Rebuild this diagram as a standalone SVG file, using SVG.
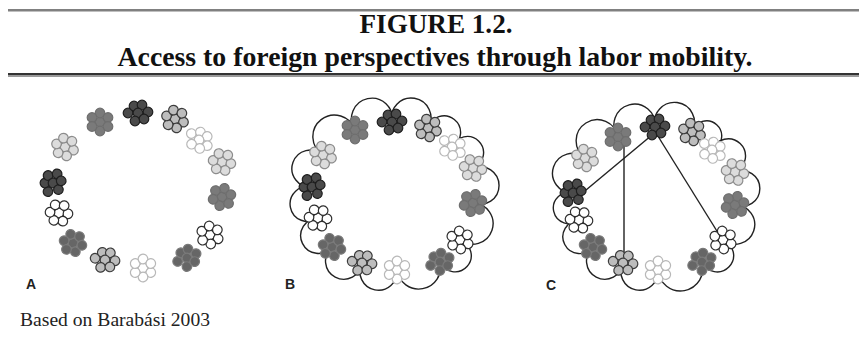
<svg xmlns="http://www.w3.org/2000/svg" xmlns:xlink="http://www.w3.org/1999/xlink" width="859" height="337" viewBox="0 0 859 337">
<style>
.ttl{font-family:"Liberation Serif","Times New Roman",serif;font-weight:bold;font-size:27px;fill:#111;text-anchor:middle}
.note{font-family:"Liberation Serif","Times New Roman",serif;font-size:18px;fill:#222}
.lbl{font-family:"Liberation Sans",Arial,sans-serif;font-weight:bold;font-size:14px;fill:#222}
.cl{stroke-width:1.2}
.med{fill:#7a7a7a;stroke:#6e6e6e}
.dk{fill:#4a4a4a;stroke:#1e1e1e}
.lg{fill:#bdbdbd;stroke:#3c3c3c}
.wl{fill:#ffffff;stroke:#b8b8b8}
.vl{fill:#dcdcdc;stroke:#8c8c8c}
.wd{fill:#ffffff;stroke:#2e2e2e}
.m2{fill:#666666;stroke:#7a7a7a}
.cloud{fill:none;stroke:#222;stroke-width:1.4}
.link{stroke:#222;stroke-width:1.4}
</style>
<defs>
<g id="ka"><circle cx="0" cy="0" r="4.8"/><circle cx="9" cy="0" r="4.8"/><circle cx="4.5" cy="7.8" r="4.8"/><circle cx="-4.5" cy="7.8" r="4.8"/><circle cx="-9" cy="0" r="4.8"/><circle cx="-4.5" cy="-7.8" r="4.8"/><circle cx="4.5" cy="-7.8" r="4.8"/></g>
<g id="kb"><circle cx="0" cy="0" r="4.8"/><circle cx="0" cy="-9" r="4.8"/><circle cx="0" cy="9" r="4.8"/><circle cx="-8" cy="-4.5" r="4.8"/><circle cx="-8" cy="4.5" r="4.8"/><circle cx="8" cy="-4.5" r="4.8"/><circle cx="8" cy="4.5" r="4.8"/></g>
<g id="kc"><circle cx="-10" cy="0" r="4.8"/><circle cx="-4" cy="-7" r="4.8"/><circle cx="4" cy="-8" r="4.8"/><circle cx="10" cy="-1" r="4.8"/><circle cx="0" cy="0" r="4.8"/><circle cx="-3" cy="8" r="4.8"/><circle cx="6" cy="6" r="4.8"/></g>
</defs>
<rect width="859" height="337" fill="#fff"/>
<g id="title">
<rect x="8" y="9" width="851" height="2.5" fill="#808080"/>
<text class="ttl" x="436" y="33" textLength="153" lengthAdjust="spacingAndGlyphs">FIGURE 1.2.</text>
<text class="ttl" x="435" y="66" textLength="635" lengthAdjust="spacingAndGlyphs">Access to foreign perspectives through labor mobility.</text>
<rect x="8" y="73" width="851" height="2" fill="#333"/>
<rect x="8" y="75" width="851" height="2" fill="#9a9a9a"/>
</g>
<g id="connectors">
<path class="cloud" d="M355,130 A20.4,20.4 0 1 1 392,122 A19.7,19.7 0 1 1 428,128 A16.6,16.6 0 1 1 452,147 A16.3,16.3 0 1 1 473,168 A18.9,18.9 0 1 1 473,203 A20.6,20.6 0 1 1 460,240 A16.3,16.3 0 1 1 440,262 A21.9,21.9 0 1 1 397,270 A18.6,18.6 0 1 1 362,263 A18.3,18.3 0 1 1 332,247 A17.7,17.7 0 1 1 318,218 A17.5,17.5 0 1 1 312,187 A18.5,18.5 0 1 1 323,155 A21.6,21.6 0 1 1 355,130 Z"/>
<path class="cloud" d="M618,137 A20.6,20.6 0 1 1 655,127 A20,20 0 1 1 692,132 A15.1,15.1 0 1 1 712,150 A17.3,17.3 0 1 1 735,172 A17.9,17.9 0 1 1 735,205 A19.6,19.6 0 1 1 723,240 A16.5,16.5 0 1 1 702,262 A22.5,22.5 0 1 1 658,270 A18.6,18.6 0 1 1 623,263 A18.3,18.3 0 1 1 593,247 A16.8,16.8 0 1 1 579,220 A15.6,15.6 0 1 1 573,193 A19.8,19.8 0 1 1 585,158 A21.1,21.1 0 1 1 618,137 Z"/>
<line class="link" x1="652" y1="135" x2="580" y2="195"/>
<line class="link" x1="624" y1="140" x2="624" y2="258"/>
<line class="link" x1="656" y1="133" x2="720" y2="236"/>
</g>
<g id="panelA">
<g id="a1"><use href="#kb" class="cl med" transform="translate(100,122)"/></g>
<g id="a2"><use href="#kc" class="cl dk" transform="translate(138,113)"/></g>
<g id="a3"><use href="#ka" class="cl lg" transform="translate(175,119) rotate(20)"/></g>
<g id="a4"><use href="#kc" class="cl wl" transform="translate(199,140) rotate(40)"/></g>
<g id="a5"><use href="#ka" class="cl vl" transform="translate(222,162) rotate(10)"/></g>
<g id="a6"><use href="#kb" class="cl med" transform="translate(222,197) rotate(15)"/></g>
<g id="a7"><use href="#ka" class="cl wd" transform="translate(210,235) rotate(25)"/></g>
<g id="a8"><use href="#kc" class="cl m2" transform="translate(187,258) rotate(-20)"/></g>
<g id="a9"><use href="#ka" class="cl wl" transform="translate(143,268) rotate(30)"/></g>
<g id="a10"><use href="#kc" class="cl lg" transform="translate(105,260) rotate(10)"/></g>
<g id="a11"><use href="#kb" class="cl m2" transform="translate(73,243) rotate(-15)"/></g>
<g id="a12"><use href="#ka" class="cl wd" transform="translate(59,213) rotate(5)"/></g>
<g id="a13"><use href="#kc" class="cl dk" transform="translate(53,183) rotate(-60)"/></g>
<g id="a14"><use href="#ka" class="cl vl" transform="translate(65,147) rotate(20)"/></g>
<text class="lbl" x="26" y="289">A</text>
</g>
<g id="panelB">
<g id="b1"><use href="#kb" class="cl med" transform="translate(355,130)"/></g>
<g id="b2"><use href="#kc" class="cl dk" transform="translate(392,122)"/></g>
<g id="b3"><use href="#ka" class="cl lg" transform="translate(428,128) rotate(20)"/></g>
<g id="b4"><use href="#kc" class="cl wl" transform="translate(452,147) rotate(40)"/></g>
<g id="b5"><use href="#ka" class="cl vl" transform="translate(473,168) rotate(10)"/></g>
<g id="b6"><use href="#kb" class="cl med" transform="translate(473,203) rotate(15)"/></g>
<g id="b7"><use href="#ka" class="cl wd" transform="translate(460,240) rotate(25)"/></g>
<g id="b8"><use href="#kc" class="cl m2" transform="translate(440,262) rotate(-20)"/></g>
<g id="b9"><use href="#ka" class="cl wl" transform="translate(397,270) rotate(30)"/></g>
<g id="b10"><use href="#kc" class="cl lg" transform="translate(362,263) rotate(10)"/></g>
<g id="b11"><use href="#kb" class="cl m2" transform="translate(332,247) rotate(-15)"/></g>
<g id="b12"><use href="#ka" class="cl wd" transform="translate(318,218) rotate(5)"/></g>
<g id="b13"><use href="#kc" class="cl dk" transform="translate(312,187) rotate(-60)"/></g>
<g id="b14"><use href="#ka" class="cl vl" transform="translate(323,155) rotate(20)"/></g>
<text class="lbl" x="285" y="289">B</text>
</g>
<g id="panelC">
<g id="c1"><use href="#kb" class="cl med" transform="translate(618,137)"/></g>
<g id="c2"><use href="#kc" class="cl dk" transform="translate(655,127)"/></g>
<g id="c3"><use href="#ka" class="cl lg" transform="translate(692,132) rotate(20)"/></g>
<g id="c4"><use href="#kc" class="cl wl" transform="translate(712,150) rotate(40)"/></g>
<g id="c5"><use href="#ka" class="cl vl" transform="translate(735,172) rotate(10)"/></g>
<g id="c6"><use href="#kb" class="cl med" transform="translate(735,205) rotate(15)"/></g>
<g id="c7"><use href="#ka" class="cl wd" transform="translate(723,240) rotate(25)"/></g>
<g id="c8"><use href="#kc" class="cl m2" transform="translate(702,262) rotate(-20)"/></g>
<g id="c9"><use href="#ka" class="cl wl" transform="translate(658,270) rotate(30)"/></g>
<g id="c10"><use href="#kc" class="cl lg" transform="translate(623,263) rotate(10)"/></g>
<g id="c11"><use href="#kb" class="cl m2" transform="translate(593,247) rotate(-15)"/></g>
<g id="c12"><use href="#ka" class="cl wd" transform="translate(579,220) rotate(5)"/></g>
<g id="c13"><use href="#kc" class="cl dk" transform="translate(573,193) rotate(-60)"/></g>
<g id="c14"><use href="#ka" class="cl vl" transform="translate(585,158) rotate(20)"/></g>
<text class="lbl" x="546" y="290">C</text>
</g>
<text class="note" x="20" y="326" textLength="190" lengthAdjust="spacingAndGlyphs">Based on Barabási 2003</text>
</svg>
